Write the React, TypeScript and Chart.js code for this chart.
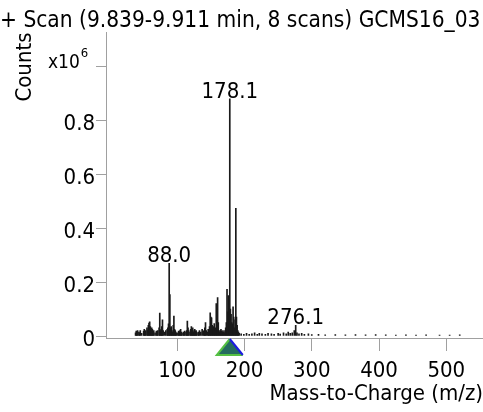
import React, { useEffect, useRef } from 'react';
import { Chart, registerables } from 'chart.js';

Chart.register(...registerables);

const TITLE = '+ Scan (9.839-9.911 min, 8 scans) GCMS16_03';
const X_TITLE = 'Mass-to-Charge (m/z)';
const Y_TITLE = 'Counts';
const Y_MULT = 'x10';
const Y_EXP = '6';

// m/z values and intensities (x10^6 counts)
const MZ = [
  38, 39, 40, 41, 43, 44, 45, 47, 50, 51, 52, 53, 55, 56, 57, 58, 59, 60, 61, 62, 63, 64, 65, 67, 69, 70, 71, 73,
  74, 75, 76, 77, 78, 79, 81, 83, 85, 86, 87, 88.0, 89, 90, 91, 92, 93, 94, 95, 96, 97, 98, 99, 101, 102, 103, 104,
  105, 106, 107, 109, 110, 111, 113, 114, 115, 116, 117, 119, 120, 121, 122, 123, 124, 125, 126, 127, 128, 129, 131,
  132, 133, 135, 137, 139, 140, 141, 142, 143, 145, 146, 147, 148, 149, 150, 151, 152, 153, 154, 155, 156, 157, 158,
  159, 160, 161, 162, 163, 164, 165, 166, 167, 168, 169, 170, 171, 172, 173, 174, 175, 176, 177, 178.1, 179, 180,
  181, 182, 183, 184, 185, 186, 187.1, 188, 189, 190, 191, 192, 195, 199, 203, 207, 211, 215, 219, 222, 226, 231,
  235, 240, 244, 250, 253, 258, 262, 265, 268, 271, 274, 276.1, 278, 281, 285, 289, 295, 300, 310, 320, 335, 350,
  365, 380, 395, 410, 425, 440, 455, 470, 490, 505, 520,
];
const INTENSITY = [
  0.012, 0.018, 0.01, 0.02, 0.015, 0.012, 0.02, 0.01, 0.018, 0.025, 0.015, 0.02, 0.03, 0.022, 0.04, 0.048, 0.053,
  0.035, 0.02, 0.03, 0.025, 0.015, 0.02, 0.012, 0.018, 0.015, 0.02, 0.03, 0.085, 0.02, 0.025, 0.035, 0.06, 0.02,
  0.015, 0.02, 0.025, 0.03, 0.045, 0.27, 0.154, 0.03, 0.035, 0.02, 0.015, 0.04, 0.074, 0.025, 0.02, 0.015, 0.01,
  0.012, 0.018, 0.015, 0.02, 0.025, 0.015, 0.01, 0.015, 0.012, 0.018, 0.015, 0.02, 0.055, 0.03, 0.02, 0.015, 0.025,
  0.035, 0.02, 0.03, 0.015, 0.02, 0.025, 0.018, 0.02, 0.015, 0.012, 0.015, 0.02, 0.015, 0.025, 0.018, 0.02, 0.03,
  0.05, 0.02, 0.015, 0.025, 0.02, 0.035, 0.086, 0.07, 0.067, 0.04, 0.025, 0.035, 0.046, 0.02, 0.03, 0.12, 0.06,
  0.143, 0.05, 0.02, 0.015, 0.02, 0.025, 0.018, 0.015, 0.02, 0.015, 0.012, 0.02, 0.03, 0.05, 0.173, 0.09, 0.15,
  0.1, 0.88, 0.1, 0.08, 0.05, 0.045, 0.108, 0.07, 0.03, 0.06, 0.474, 0.07, 0.04, 0.02, 0.015, 0.01, 0.008, 0.006,
  0.01, 0.006, 0.008, 0.012, 0.006, 0.01, 0.008, 0.006, 0.01, 0.008, 0.006, 0.01, 0.007, 0.012, 0.008, 0.015,
  0.01, 0.012, 0.02, 0.04, 0.012, 0.008, 0.01, 0.006, 0.008, 0.005, 0.006, 0.004, 0.005, 0.004, 0.005, 0.004,
  0.005, 0.004, 0.003, 0.004, 0.003, 0.004, 0.003, 0.003, 0.004,
];

const X_TICKS = [100, 200, 300, 400, 500];
const Y_TICKS = [0, 0.2, 0.4, 0.6, 0.8, 1.0];
const Y_HIDDEN_LABEL = 1.0;

const ANNOT_MZ = [88.0, 178.1, 276.1];
const ANNOT_LABELS = ['88.0', '178.1', '276.1'];
const PRECURSOR_MZ = 178.1;

const FONT = "'DejaVu Sans Condensed', 'Liberation Sans', sans-serif";
const FS = 22;
const AXIS_COLOR = '#a0a0a0';

const W = 483;
const H = 412;

const extrasPlugin = {
  id: 'msExtras',
  afterDatasetsDraw(chart: any) {
    const { ctx, scales } = chart;
    const xs = scales.x;
    const ys = scales.y;
    ctx.save();
    // peak annotations
    ctx.fillStyle = '#000';
    ctx.font = `${FS}px ${FONT}`;
    ctx.textAlign = 'center';
    ctx.textBaseline = 'alphabetic';
    ANNOT_MZ.forEach((mz, i) => {
      const idx = MZ.indexOf(mz);
      const v = idx >= 0 ? INTENSITY[idx] : 0;
      const px = xs.getPixelForValue(mz);
      const py = ys.getPixelForValue(v);
      ctx.fillText(ANNOT_LABELS[i], px, py - 1);
    });
    // multiplier x10^6
    ctx.textAlign = 'left';
    ctx.font = `19px ${FONT}`;
    const mx = 48;
    const my = 68;
    ctx.fillText(Y_MULT, mx, my);
    const w = ctx.measureText(Y_MULT).width;
    ctx.font = `13px ${FONT}`;
    ctx.fillText(Y_EXP, mx + w + 1, my - 11);
    // precursor triangle
    const cx = xs.getPixelForValue(PRECURSOR_MZ);
    const top = chart.chartArea.bottom + 1;
    const bot = top + 16;
    const hw = 13;
    ctx.beginPath();
    ctx.moveTo(cx, top);
    ctx.lineTo(cx + hw, bot);
    ctx.lineTo(cx - hw, bot);
    ctx.closePath();
    ctx.fillStyle = '#256b5f';
    ctx.fill();
    ctx.lineWidth = 2;
    ctx.strokeStyle = '#55c043';
    ctx.beginPath();
    ctx.moveTo(cx + hw, bot);
    ctx.lineTo(cx - hw, bot);
    ctx.lineTo(cx, top);
    ctx.stroke();
    ctx.strokeStyle = '#1c1ce0';
    ctx.beginPath();
    ctx.moveTo(cx, top);
    ctx.lineTo(cx + hw, bot);
    ctx.stroke();
    ctx.restore();
  },
};

export default function App() {
  const ref = useRef<HTMLCanvasElement | null>(null);
  useEffect(() => {
    document.body.style.margin = '0';
    const canvas = ref.current;
    if (!canvas) return;
    const data = MZ.map((m, i) => ({ x: m, y: INTENSITY[i] }));
    const chart = new Chart(canvas, {
      type: 'bar',
      data: {
        datasets: [
          {
            data,
            backgroundColor: '#1a1a1a',
            borderWidth: 0,
            barThickness: 1,
          } as any,
        ],
      },
      plugins: [extrasPlugin],
      options: {
        animation: false,
        responsive: false,
        devicePixelRatio: 1,
        layout: { padding: 0 },
        plugins: {
          legend: { display: false },
          tooltip: { enabled: false },
          title: {
            display: true,
            text: TITLE,
            align: 'start',
            color: '#000',
            font: { family: FONT, size: 22.5, weight: 'normal', lineHeight: 1 },
            padding: { top: 10, bottom: 0 },
          },
        },
        scales: {
          x: {
            type: 'linear',
            min: -5.95,
            max: 554.6,
            offset: false,
            afterFit: (s: any) => {
              s.height = 74;
            },
            afterBuildTicks: (s: any) => {
              s.ticks = X_TICKS.map((v) => ({ value: v }));
            },
            grid: {
              offset: false,
              drawOnChartArea: false,
              drawTicks: true,
              tickLength: 13,
              color: AXIS_COLOR,
            },
            border: { color: AXIS_COLOR },
            ticks: {
              color: '#000',
              font: { family: FONT, size: FS },
              padding: 7,
              maxRotation: 0,
              autoSkip: false,
            },
            title: {
              display: true,
              text: X_TITLE,
              align: 'end',
              color: '#000',
              font: { family: FONT, size: FS },
              padding: { top: 0, bottom: 5 },
            },
          },
          y: {
            type: 'linear',
            min: -2 / 270,
            max: (336 - 32) / 270,
            afterFit: (s: any) => {
              s.width = 106;
            },
            afterBuildTicks: (s: any) => {
              s.ticks = Y_TICKS.map((v) => ({ value: v }));
            },
            grid: {
              drawOnChartArea: false,
              drawTicks: true,
              tickLength: 10,
              color: AXIS_COLOR,
            },
            border: { color: AXIS_COLOR },
            ticks: {
              color: '#000',
              font: { family: FONT, size: FS },
              padding: 1,
              labelOffset: 4,
              callback: (v: any) => {
                const n = Math.round(Number(v) * 10) / 10;
                if (n === Y_HIDDEN_LABEL) return '';
                return n === 0 ? '0' : n.toFixed(1);
              },
            },
            title: {
              display: true,
              text: Y_TITLE,
              align: 'end',
              color: '#000',
              font: { family: FONT, size: FS },
              padding: { top: 12, bottom: 0 },
            },
          },
        },
      } as any,
    });
    return () => chart.destroy();
  }, []);
  return (
    <div style={{ width: W, height: H, background: '#fff' }}>
      <canvas ref={ref} width={W} height={H} style={{ display: 'block' }} />
    </div>
  );
}
